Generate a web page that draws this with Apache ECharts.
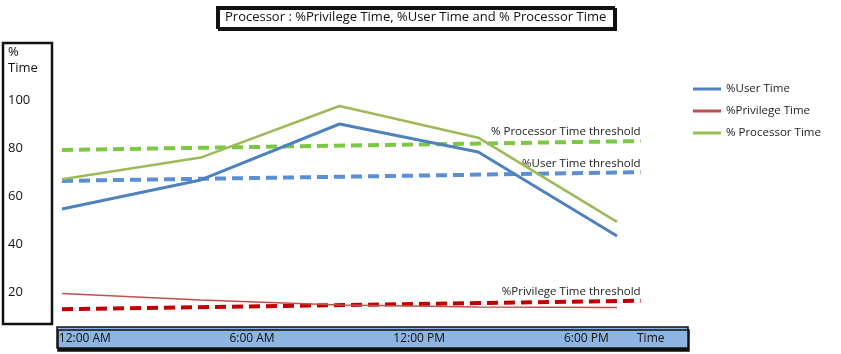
<!DOCTYPE html>
<html>
<head>
<meta charset="utf-8">
<script src="https://cdn.jsdelivr.net/npm/echarts@6/dist/echarts.min.js"></script>
<style>
  html, body { margin: 0; padding: 0; background: #fff; }
  #chart { width: 841px; height: 354px; }
</style>
</head>
<body>
<div id="chart"></div>
<script>
// readings, one per sample step
const samples = [0, 1, 2, 3, 4];
const userTime = [54.6, 66.7, 90, 78.3, 43.3];
const privilegeTime = [19.4, 16.7, 14.6, 13.8, 13.5];
const processorTime = [67, 76, 97.5, 84.3, 49.2];

// thresholds: start and end of each dashed line
const thresholdX = [0, 4.17];
const processorThreshold = [79.2, 82.9];
const userThreshold = [66.3, 69.9];
const privilegeThreshold = [12.8, 16.4];

const yTicks = [20, 40, 60, 80, 100];
const timeTicks = [0, 6, 12, 18];
const timeLabels = ["12:00 AM", "6:00 AM", "12:00 PM", "6:00 PM"];

const font = "Open Sans";

const pairs = (xs, ys) => xs.map((x, i) => [x, ys[i]]);

const solidLine = (name, values, color, width) => ({
  name,
  type: "line",
  xAxisIndex: 0,
  yAxisIndex: 0,
  showSymbol: false,
  data: pairs(samples, values),
  lineStyle: { color, width },
  itemStyle: { color },
  z: 3,
});

const thresholdLine = (name, values, color) => ({
  name,
  type: "line",
  xAxisIndex: 0,
  yAxisIndex: 0,
  showSymbol: false,
  data: pairs(thresholdX, values),
  lineStyle: { color, width: 4, type: [11, 6] },
  itemStyle: { color },
  endLabel: {
    show: true,
    formatter: name,
    align: "right",
    verticalAlign: "bottom",
    distance: 0,
    padding: [0, 0, 3, 0],
    fontFamily: font,
    fontSize: 11.5,
    color: "#222",
  },
  z: 2,
});

const chart = echarts.init(document.getElementById("chart"));

chart.setOption({
  animation: false,
  backgroundColor: "#fff",
  title: [
    {
      text: "Processor : %Privilege Time, %User Time and % Processor Time",
      left: 217,
      top: 7,
      padding: [4, 8],
      borderColor: "#111",
      borderWidth: 2,
      backgroundColor: "#fff",
      shadowColor: "#111",
      shadowOffsetX: 2,
      shadowOffsetY: 2,
      textStyle: { fontFamily: font, fontSize: 13, fontWeight: "normal", color: "#111" },
    },
    {
      text: "%\nTime",
      left: 8,
      top: 44,
      padding: 0,
      textStyle: { fontFamily: font, fontSize: 13, fontWeight: "normal", color: "#111", lineHeight: 16 },
    },
  ],
  legend: {
    orient: "vertical",
    left: 688,
    top: 78,
    icon: "rect",
    itemWidth: 28,
    itemHeight: 3,
    itemGap: 10,
    textStyle: { fontFamily: font, fontSize: 11.5, color: "#222" },
    data: ["%User Time", "%Privilege Time", "% Processor Time"],
  },
  graphic: [
    {
      type: "rect",
      shape: { x: 3, y: 43, width: 49, height: 281 },
      style: { fill: "none", stroke: "#111", lineWidth: 2.5 },
      z: -1,
    },
  ],
  grid: [
    { left: 62, top: 100, width: 582.75, height: 240 },
    {
      left: 57,
      top: 327,
      width: 631,
      height: 21,
      show: true,
      backgroundColor: "#8db4e2",
      borderColor: "#111",
      borderWidth: 1.5,
      shadowColor: "#111",
      shadowOffsetX: 1,
      shadowOffsetY: 3,
    },
  ],
  xAxis: [
    { gridIndex: 0, type: "value", min: 0, max: 4.2, show: false },
    {
      gridIndex: 1,
      type: "value",
      min: -1,
      max: 21.65,
      offset: -9,
      axisLine: { show: false },
      axisTick: { show: false },
      splitLine: { show: false },
      axisLabel: {
        customValues: timeTicks,
        formatter: (v) => timeLabels[timeTicks.indexOf(v)],
        margin: 0,
        verticalAlign: "middle",
        fontFamily: font,
        fontSize: 12,
        color: "#111",
      },
      name: "Time",
      nameLocation: "end",
      nameGap: -51,
      nameTextStyle: { fontFamily: font, fontSize: 12, color: "#111" },
    },
  ],
  yAxis: [
    {
      gridIndex: 0,
      type: "value",
      min: 0,
      max: 100,
      axisLine: { show: false },
      axisTick: { show: false },
      splitLine: { show: false },
      axisLabel: {
        customValues: yTicks,
        margin: 54,
        align: "left",
        fontFamily: font,
        fontSize: 13,
        color: "#111",
      },
    },
    { gridIndex: 1, type: "value", show: false },
  ],
  series: [
    solidLine("%User Time", userTime, "#4f81bd", 3),
    solidLine("%Privilege Time", privilegeTime, "#c0504d", 1.5),
    solidLine("% Processor Time", processorTime, "#9bbb59", 2.5),
    thresholdLine("% Processor Time threshold", processorThreshold, "#7cc843"),
    thresholdLine("%User Time threshold", userThreshold, "#5a8ed5"),
    thresholdLine("%Privilege Time threshold", privilegeThreshold, "#c00000"),
  ],
});
</script>
</body>
</html>
